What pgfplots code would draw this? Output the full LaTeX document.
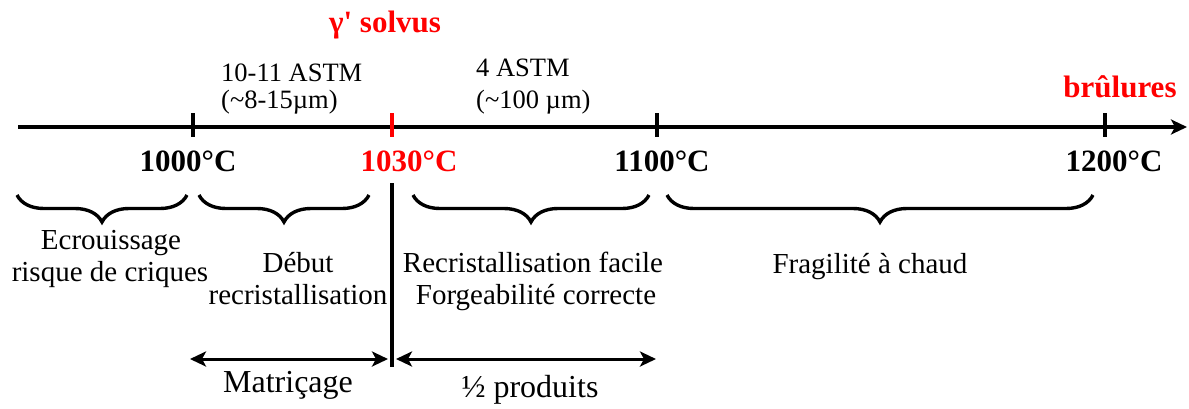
\documentclass[border=0pt]{standalone}
\usepackage{pgfplots}
\pgfplotsset{compat=1.18}
\usepackage{fontspec}
\setmainfont{Liberation Serif}
\usetikzlibrary{arrows.meta,decorations.pathreplacing}
\definecolor{myred}{RGB}{255,0,0}
\newcommand{\fbody}{\fontsize{29bp}{34bp}\selectfont}
\newcommand{\fsmall}{\fontsize{26.5bp}{31bp}\selectfont}
\newcommand{\fbold}{\fontsize{31bp}{36bp}\selectfont\bfseries}
\newcommand{\fbig}{\fontsize{32bp}{37bp}\selectfont}
\begin{document}
\begin{tikzpicture}
\begin{axis}[
  width=1189bp, height=408bp, scale only axis,
  xmin=0, xmax=1189, ymin=0, ymax=408, y dir=reverse,
  hide axis, clip=false
]
% bounding box
\addplot[draw=none] coordinates {(0,0) (1189,408)};
% main axis
\addplot[line width=3.6bp, -{Stealth[length=16bp,width=15bp,inset=4bp]}] coordinates {(18,127) (1187,127)};
% ticks
\addplot[line width=3.6bp] coordinates {(193,113) (193,137)};
\addplot[line width=3.6bp, myred] coordinates {(392,113) (392,137)};
\addplot[line width=3.6bp] coordinates {(657,113) (657,137)};
\addplot[line width=3.6bp] coordinates {(1105,113) (1105,137)};
% vertical line
\addplot[line width=3.6bp] coordinates {(392,183) (392,367)};
% double arrows
\addplot[line width=3bp, {Stealth[length=16bp,width=15bp,inset=4bp]}-{Stealth[length=16bp,width=15bp,inset=4bp]}] coordinates {(190,359) (388,359)};
\addplot[line width=3bp, {Stealth[length=16bp,width=15bp,inset=4bp]}-{Stealth[length=16bp,width=15bp,inset=4bp]}] coordinates {(396,359) (656,359)};
% braces
\draw[line width=3.4bp, decorate, decoration={brace, amplitude=27bp, mirror}] (axis cs:17,195) -- (axis cs:187,195);
\draw[line width=3.4bp, decorate, decoration={brace, amplitude=27bp, mirror}] (axis cs:199,195) -- (axis cs:369,195);
\draw[line width=3.4bp, decorate, decoration={brace, amplitude=27bp, mirror}] (axis cs:413,195) -- (axis cs:649,195);
\draw[line width=3.4bp, decorate, decoration={brace, amplitude=27bp, mirror}] (axis cs:667,195) -- (axis cs:1093,195);
% top texts
\node[anchor=base, text=myred, font=\fbold, inner sep=0pt] at (axis cs:385,32) {γ\textquotesingle{} solvus};
\node[anchor=base west, font=\fsmall, inner sep=0pt] at (axis cs:221,81) {10-11 ASTM};
\node[anchor=base west, font=\fsmall, inner sep=0pt] at (axis cs:221,108) {(\textasciitilde8-15µm)};
\node[anchor=base west, font=\fsmall, inner sep=0pt] at (axis cs:476,76) {4 ASTM};
\node[anchor=base west, font=\fsmall, inner sep=0pt] at (axis cs:476,108) {(\textasciitilde100 µm)};
\node[anchor=base, text=myred, font=\fbold, inner sep=0pt] at (axis cs:1120,97) {brûlures};
% tick labels
\node[anchor=base, font=\fbold, inner sep=0pt] at (axis cs:188,171) {1000°C};
\node[anchor=base, text=myred, font=\fbold, inner sep=0pt] at (axis cs:409,171) {1030°C};
\node[anchor=base, font=\fbold, inner sep=0pt] at (axis cs:662,171) {1100°C};
\node[anchor=base, font=\fbold, inner sep=0pt] at (axis cs:1114,171) {1200°C};
% brace texts
\node[anchor=base, font=\fbody, inner sep=0pt] at (axis cs:111,249) {Ecrouissage};
\node[anchor=base, font=\fbody, inner sep=0pt] at (axis cs:110,281) {risque de criques};
\node[anchor=base, font=\fbody, inner sep=0pt] at (axis cs:298,272) {Début};
\node[anchor=base, font=\fbody, inner sep=0pt] at (axis cs:298,304) {recristallisation};
\node[anchor=base, font=\fbody, inner sep=0pt] at (axis cs:533,272) {Recristallisation facile};
\node[anchor=base, font=\fbody, inner sep=0pt] at (axis cs:536,304) {Forgeabilité correcte};
\node[anchor=base, font=\fbody, inner sep=0pt] at (axis cs:870,273) {Fragilité à chaud};
% bottom texts
\node[anchor=base, font=\fbig, inner sep=0pt] at (axis cs:288,392) {Matriçage};
\node[anchor=base, font=\fbig, inner sep=0pt] at (axis cs:530,397) {½ produits};
\end{axis}
\end{tikzpicture}
\end{document}
